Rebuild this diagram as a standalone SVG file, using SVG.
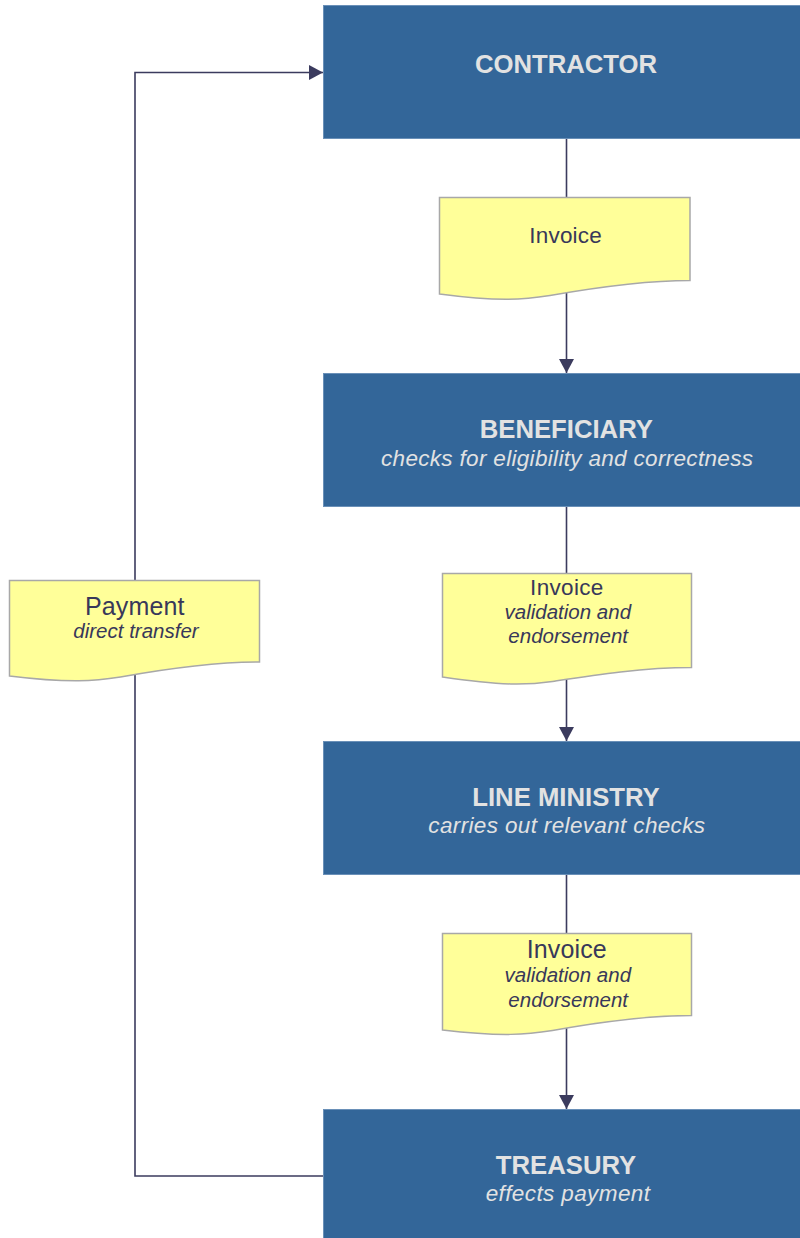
<svg xmlns="http://www.w3.org/2000/svg" width="800" height="1238" viewBox="0 0 800 1238">
  <style>
    .box { fill: #336699; stroke: #6a90b8; stroke-width: 1; }
    .title { font-family: "Liberation Sans", Arial, sans-serif; font-weight: bold; font-size: 25.7px; fill: #e2e2e2; text-anchor: middle; }
    .sub { font-family: "Liberation Sans", Arial, sans-serif; font-style: italic; font-size: 22.5px; fill: #e2e2e2; text-anchor: middle; }
    .doc { fill: #ffff99; stroke: #a8a8a8; stroke-width: 1.5; }
    .dtitle { font-family: "Liberation Sans", Arial, sans-serif; font-size: 22.5px; fill: #38385a; text-anchor: middle; }
    .dsub { font-family: "Liberation Sans", Arial, sans-serif; font-style: italic; font-size: 20.5px; fill: #38385a; text-anchor: middle; }
    .edge { fill: none; stroke: #3b3b5e; stroke-width: 1.6; }
  </style>
  <defs>
    <marker id="arrow" viewBox="0 0 14 15" refX="14" refY="7.5" markerWidth="14" markerHeight="15" markerUnits="userSpaceOnUse" orient="auto">
      <path d="M0,0 L14,7.5 L0,15 Z" fill="#3b3b5e"/>
    </marker>
  </defs>

  <!-- connectors (drawn first; documents sit on top of them) -->
  <g id="connectors">
    <path class="edge" d="M566.5,139 V373" marker-end="url(#arrow)"/>
    <path class="edge" d="M566.5,507 V741" marker-end="url(#arrow)"/>
    <path class="edge" d="M566.5,875 V1109" marker-end="url(#arrow)"/>
    <path class="edge" d="M323,1176 H135 V72.5 H323" marker-end="url(#arrow)"/>
  </g>

  <!-- process boxes -->
  <g id="contractor">
    <rect class="box" x="323.5" y="5.5" width="490" height="133"/>
    <text class="title" x="566" y="72.7">CONTRACTOR</text>
  </g>
  <g id="beneficiary">
    <rect class="box" x="323.5" y="373.5" width="490" height="133"/>
    <text class="title" x="566.3" y="438.3">BENEFICIARY</text>
    <text class="sub" x="567" y="465.7" textLength="372" lengthAdjust="spacing">checks for eligibility and correctness</text>
  </g>
  <g id="line-ministry">
    <rect class="box" x="323.5" y="741.5" width="490" height="133"/>
    <text class="title" x="566" y="805.7">LINE MINISTRY</text>
    <text class="sub" x="566.7" y="833.3" textLength="276.7" lengthAdjust="spacing">carries out relevant checks</text>
  </g>
  <g id="treasury">
    <rect class="box" x="323.5" y="1109.5" width="490" height="140"/>
    <text class="title" x="566" y="1174.3">TREASURY</text>
    <text class="sub" x="567.8" y="1201" textLength="164.3" lengthAdjust="spacing">effects payment</text>
  </g>

  <!-- documents -->
  <g id="doc-invoice-1">
    <path class="doc" d="M439.5,197.5 H690 V280.5 C640,280.5 590,288.5 550,295.5 C525,299.5 500,302 439.5,294 Z"/>
    <text class="dtitle" x="565.5" y="243.3" textLength="72.4" lengthAdjust="spacing">Invoice</text>
  </g>
  <g id="doc-invoice-2">
    <path class="doc" d="M442.5,573.5 H691.5 V667.5 C641.5,667.5 591.5,675.5 552.5,681.5 C527.5,685 502.5,686 442.5,677 Z"/>
    <text class="dtitle" x="566.7" y="595" textLength="73.3" lengthAdjust="spacing">Invoice</text>
    <text class="dsub" x="567.8" y="619.3">validation and</text>
    <text class="dsub" x="568.2" y="643.3">endorsement</text>
  </g>
  <g id="doc-invoice-3">
    <path class="doc" d="M442.5,933.5 H691.5 V1015.5 C641.5,1015.5 591.5,1023.5 552.5,1030.5 C527.5,1034.5 502.5,1037 442.5,1030 Z"/>
    <text class="dtitle" x="566.7" y="958.3" style="font-size:25px" textLength="80" lengthAdjust="spacing">Invoice</text>
    <text class="dsub" x="567.8" y="981.7">validation and</text>
    <text class="dsub" x="568.2" y="1006.7">endorsement</text>
  </g>
  <g id="doc-payment">
    <path class="doc" d="M9.5,580.5 H259.5 V662 C209.5,662 159.5,670 120.5,677 C95.5,681 70.5,683.5 9.5,676 Z"/>
    <text class="dtitle" x="134.7" y="615" style="font-size:25px" textLength="99.3" lengthAdjust="spacing">Payment</text>
    <text class="dsub" x="136" y="638.3">direct transfer</text>
  </g>
</svg>
